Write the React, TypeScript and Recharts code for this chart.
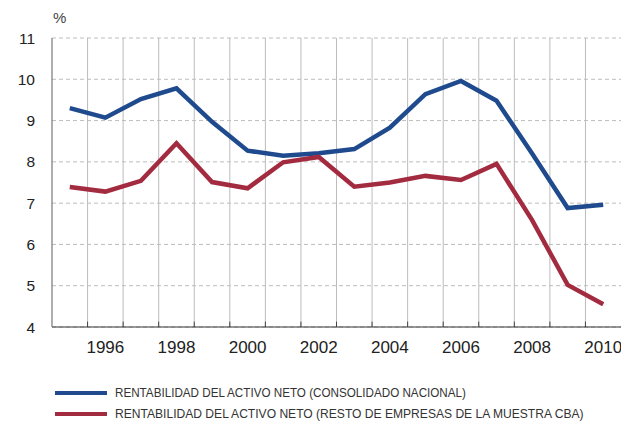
import { LineChart, Line, XAxis, YAxis, CartesianGrid, ReferenceLine } from 'recharts';

// años de la serie
const YEARS = [1995, 1996, 1997, 1998, 1999, 2000, 2001, 2002, 2003, 2004, 2005, 2006, 2007, 2008, 2009, 2010];
// rentabilidad del activo neto, consolidado nacional (%)
const NACIONAL = [9.3, 9.07, 9.52, 9.78, 8.97, 8.27, 8.15, 8.21, 8.31, 8.83, 9.64, 9.96, 9.48, 8.2, 6.88, 6.96];
// rentabilidad del activo neto, resto de empresas de la muestra CBA (%)
const RESTO = [7.39, 7.28, 7.54, 8.45, 7.51, 7.36, 7.99, 8.12, 7.4, 7.5, 7.66, 7.56, 7.95, 6.59, 5.02, 4.55];
const X_TICKS = [1996, 1998, 2000, 2002, 2004, 2006, 2008, 2010];
const Y_TICKS = [4, 5, 6, 7, 8, 9, 10, 11];
const BOUNDS = [1995.5, 1996.5, 1997.5, 1998.5, 1999.5, 2000.5, 2001.5, 2002.5, 2003.5, 2004.5, 2005.5, 2006.5, 2007.5, 2008.5, 2009.5];

const LEGEND = [
  { label: 'RENTABILIDAD DEL ACTIVO NETO (CONSOLIDADO NACIONAL)', color: '#1f4b8e', width: 352 },
  { label: 'RENTABILIDAD DEL ACTIVO NETO (RESTO DE EMPRESAS DE LA MUESTRA CBA)', color: '#a32b40', width: 471 },
];

const data = YEARS.map((year, i) => ({ year, nacional: NACIONAL[i], resto: RESTO[i] }));

const FONT = '"Liberation Sans", Arial, Helvetica, sans-serif';
const LEGEND_SIZE = 13.5;

// la leyenda original usa una fuente condensada: se estrecha con scaleX
function squeeze(text: string, target: number) {
  const ctx = document.createElement('canvas').getContext('2d');
  if (!ctx) return 0.8;
  ctx.font = `${LEGEND_SIZE}px ${FONT}`;
  const w = ctx.measureText(text).width;
  return w > 0 ? target / w : 0.8;
}

export default function App() {
  return (
    <div style={{ position: 'absolute', left: 0, top: 0, width: 621, height: 423, background: '#fff', fontFamily: FONT, overflow: 'hidden' }}>
      <div style={{ position: 'absolute', left: 53, top: 9, fontSize: 15, color: '#444' }}>%</div>
      <LineChart width={621} height={370} data={data} margin={{ top: 38, right: 0, left: 0, bottom: 0 }}>
        <CartesianGrid vertical={false} stroke="#bdbdbd" strokeDasharray="4 3" />
        {BOUNDS.map((b) => (
          <ReferenceLine key={b} x={b} stroke="#bcbcbc" strokeWidth={1} />
        ))}
        {BOUNDS.map((b) => (
          <ReferenceLine
            key={'t' + b}
            segment={[{ x: b, y: 4 }, { x: b, y: 4.13 }]}
            stroke="#444"
            strokeWidth={1}
          />
        ))}
        <XAxis
          dataKey="year"
          type="number"
          domain={[1994.5, 2010.5]}
          ticks={X_TICKS}
          height={43}
          tickLine={false}
          tickSize={0}
          tickMargin={14}
          axisLine={{ stroke: '#333', strokeWidth: 1.2 }}
          tick={{ fill: '#222', fontSize: 17, fontFamily: FONT }}
          interval={0}
          allowDataOverflow
        />
        <YAxis
          domain={[4, 11]}
          ticks={Y_TICKS}
          width={52}
          tickLine={false}
          tickSize={0}
          tickMargin={17}
          axisLine={{ stroke: '#777', strokeWidth: 1.2 }}
          tick={{ fill: '#222', fontSize: 15.5, fontFamily: FONT }}
          interval={0}
        />
        <Line dataKey="nacional" stroke="#1f4b8e" strokeWidth={4.5} dot={false} isAnimationActive={false} strokeLinejoin="miter" />
        <Line dataKey="resto" stroke="#a32b40" strokeWidth={4.5} dot={false} isAnimationActive={false} strokeLinejoin="miter" />
      </LineChart>
      {LEGEND.map((item, i) => (
        <div key={item.label} style={{ position: 'absolute', left: 55, top: 384 + i * 21, height: 18, display: 'flex', alignItems: 'center' }}>
          <div style={{ width: 52, height: 4, background: item.color }} />
          <div
            style={{
              marginLeft: 8,
              fontSize: LEGEND_SIZE,
              lineHeight: '18px',
              color: '#333',
              whiteSpace: 'nowrap',
              transform: `scaleX(${squeeze(item.label, item.width)})`,
              transformOrigin: 'left center',
            }}
          >
            {item.label}
          </div>
        </div>
      ))}
    </div>
  );
}
